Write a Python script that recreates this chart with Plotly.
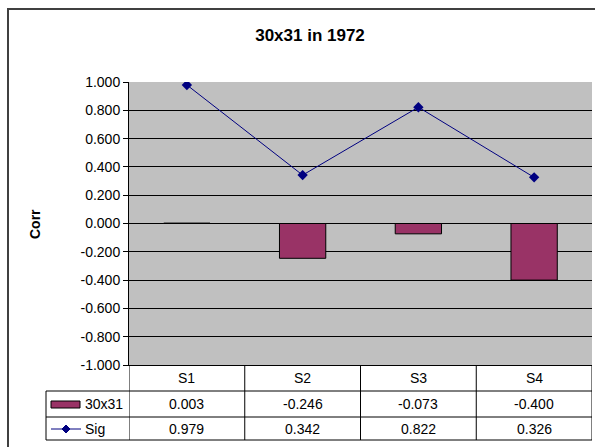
import plotly.graph_objects as go

# chart data
categories = ["S1", "S2", "S3", "S4"]
corr_values = [0.003, -0.246, -0.073, -0.400]
sig_values = [0.979, 0.342, 0.822, 0.326]
series_names = ["30x31", "Sig"]
y_tick_vals = [-1.0, -0.8, -0.6, -0.4, -0.2, 0.0, 0.2, 0.4, 0.6, 0.8, 1.0]
y_tick_text = [f"{v:.3f}" for v in y_tick_vals]  # plain hyphen, like Excel

W, H = 595, 447
L, R, T, B = 129, 3, 82, 82
FONT = "Arial, Liberation Sans, sans-serif"
BAR_COLOR = "#993366"
LINE_COLOR = "#000080"


def px(x):
    # page pixel -> paper x
    return (x - L) / (W - L - R)


def py(y):
    # page pixel -> paper y
    return (H - B - y) / (H - T - B)


fig = go.Figure()

fig.add_trace(go.Bar(
    x=categories, y=corr_values, name=series_names[0],
    width=0.4,
    marker=dict(color=BAR_COLOR, line=dict(color="black", width=1)),
))
fig.add_trace(go.Scatter(
    x=categories, y=sig_values, name=series_names[1],
    mode="lines+markers",
    line=dict(color=LINE_COLOR, width=1),
    marker=dict(symbol="diamond", size=8, color=LINE_COLOR),
))

shapes = []
# outer chart frame
shapes.append(dict(type="rect", xref="paper", yref="paper",
                   x0=px(8), x1=px(640), y0=py(9), y1=py(480),
                   line=dict(color="#404040", width=2)))

# data table grid
row_lines = [391, 417, 440]
for yy in row_lines:
    shapes.append(dict(type="line", xref="paper", yref="paper",
                       x0=px(46), x1=px(592), y0=py(yy), y1=py(yy),
                       line=dict(color="black", width=1)))
shapes.append(dict(type="line", xref="paper", yref="paper",
                   x0=px(46), x1=px(46), y0=py(391), y1=py(440),
                   line=dict(color="black", width=1)))
for i in range(len(categories) + 1):
    shapes.append(dict(type="line", xref="x", yref="paper",
                       x0=i - 0.5, x1=i - 0.5, y0=py(365), y1=py(440),
                       line=dict(color="black", width=1)))

# legend keys inside the table
shapes.append(dict(type="rect", xref="paper", yref="paper",
                   x0=px(51), x1=px(80), y0=py(401), y1=py(408),
                   fillcolor=BAR_COLOR, line=dict(color="black", width=1)))
shapes.append(dict(type="line", xref="paper", yref="paper",
                   x0=px(51), x1=px(81), y0=py(429), y1=py(429),
                   line=dict(color=LINE_COLOR, width=1)))
cx, cy, d = 66, 429, 4
shapes.append(dict(type="path", xref="paper", yref="paper",
                   path=f"M {px(cx - d)},{py(cy)} L {px(cx)},{py(cy - d)} "
                        f"L {px(cx + d)},{py(cy)} L {px(cx)},{py(cy + d)} Z",
                   fillcolor=LINE_COLOR, line=dict(color=LINE_COLOR, width=1)))

annotations = []
cell = dict(xref="x", yref="paper", xanchor="center", yanchor="middle",
            showarrow=False)
for i, cat in enumerate(categories):
    annotations.append(dict(cell, x=cat, y=py(378), text=cat))
    annotations.append(dict(cell, x=cat, y=py(404),
                            text=f"{corr_values[i]:.3f}"))
    annotations.append(dict(cell, x=cat, y=py(428.5),
                            text=f"{sig_values[i]:.3f}"))
key = dict(xref="paper", yref="paper", xanchor="left", yanchor="middle",
           showarrow=False)
annotations.append(dict(key, x=px(83), y=py(404), text=series_names[0]))
annotations.append(dict(key, x=px(83), y=py(428.5), text=series_names[1]))
# y axis title
annotations.append(dict(x=px(35), y=py(224), xref="paper", yref="paper",
                        xanchor="center", yanchor="middle",
                        text="<b>Corr</b>", textangle=-90, showarrow=False,
                        font=dict(size=14)))

fig.update_layout(
    width=W, height=H,
    margin=dict(l=L, r=R, t=T, b=B),
    paper_bgcolor="white",
    plot_bgcolor="#C0C0C0",
    showlegend=False,
    font=dict(family=FONT, size=14, color="black"),
    title=dict(text="<b>30x31 in 1972</b>", x=310 / W, y=1 - 35 / H,
               xanchor="center", yanchor="middle",
               font=dict(size=17, color="black")),
    xaxis=dict(range=[-0.5, 3.5], showticklabels=False, ticks="",
               showgrid=False, zeroline=False,
               showline=True, linecolor="black", linewidth=1),
    yaxis=dict(range=[-1, 1], tickvals=y_tick_vals, ticktext=y_tick_text,
               ticks="outside", ticklen=5, tickcolor="black",
               showgrid=True, gridcolor="black", gridwidth=1,
               zeroline=False, showline=True, linecolor="black", linewidth=1),
    shapes=shapes,
    annotations=annotations,
)

fig.write_html("out.html", config={"displayModeBar": False},
               post_script='document.body.style.margin="0";')
